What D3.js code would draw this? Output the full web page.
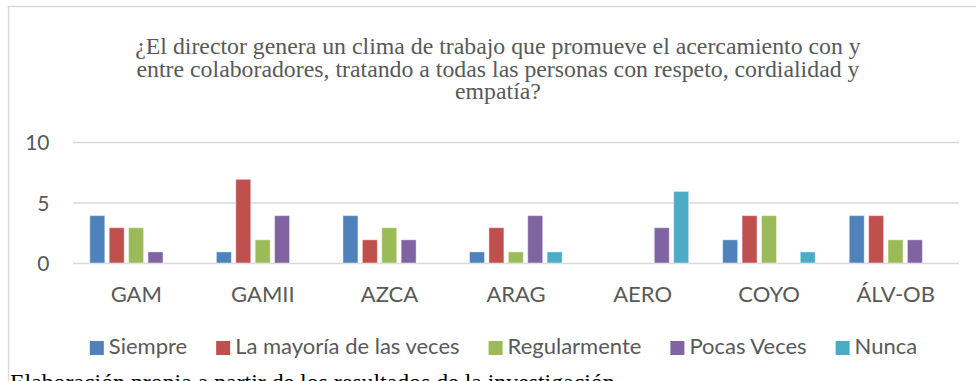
<!DOCTYPE html>
<html>
<head>
<meta charset="utf-8">
<script src="https://cdn.jsdelivr.net/npm/d3@7"></script>
<style>
  html, body { margin: 0; padding: 0; background: #fff; }
  svg { display: block; }
</style>
</head>
<body>
<svg id="chart" width="976" height="381"></svg>
<script>
// Survey answers per school (count of responses)
const categories = ["GAM", "GAMII", "AZCA", "ARAG", "AERO", "COYO", "ÁLV-OB"];
const series = ["Siempre", "La mayoría de las veces", "Regularmente", "Pocas Veces", "Nunca"];
const siempre      = [4, 1, 4, 1, 0, 2, 4];
const mayoria      = [3, 7, 2, 3, 0, 4, 4];
const regularmente = [3, 2, 3, 1, 0, 4, 2];
const pocasVeces   = [1, 4, 2, 4, 3, 0, 2];
const nunca        = [0, 0, 0, 1, 6, 1, 0];
const yTicks = [0, 5, 10];
const titleLines = [
  "¿El director genera un clima de trabajo que promueve el acercamiento con y",
  "entre colaboradores, tratando a todas las personas con respeto, cordialidad y",
  "empatía?"
];
const caption = "Elaboración propia a partir de los resultados de la investigación";

const seriesValues = [siempre, mayoria, regularmente, pocasVeces, nunca];
const colors = ["#4F81BD", "#C0504D", "#9BBB59", "#8064A2", "#4BACC6"];

const svg = d3.select("#chart");
const textGrey = "#595959";
const gridGrey = "#D9D9D9";
const sansFont = "Lato, 'Open Sans', sans-serif";
const serifFont = "'Liberation Serif', 'Times New Roman', serif";

// Outer chart frame
svg.append("rect")
  .attr("x", 8.5).attr("y", 6.5)
  .attr("width", 980).attr("height", 420)
  .attr("fill", "#fff")
  .attr("stroke", gridGrey).attr("stroke-width", 1.5);

// Title
const titleCx = 498;
svg.append("g").selectAll("text")
  .data(titleLines)
  .join("text")
  .attr("x", titleCx)
  .attr("y", (d, i) => 54 + i * 22.5)
  .attr("text-anchor", "middle")
  .attr("font-family", serifFont)
  .attr("font-size", 23.8)
  .attr("fill", textGrey)
  .text(d => d);

// Plot area
const plot = { left: 73, right: 959, top: 142.5, bottom: 263.5 };

const x0 = d3.scaleBand()
  .domain(categories)
  .range([plot.left, plot.right])
  .padding(0);

const x1 = d3.scaleBand()
  .domain(series)
  .range([16.3, 16.3 + 93.6])
  .paddingInner(0.175)
  .paddingOuter(0);

const y = d3.scaleLinear()
  .domain([0, 10])
  .range([plot.bottom, plot.top]);

// Gridlines
svg.append("g").selectAll("line")
  .data(yTicks)
  .join("line")
  .attr("x1", plot.left).attr("x2", plot.right)
  .attr("y1", d => y(d)).attr("y2", d => y(d))
  .attr("stroke", gridGrey).attr("stroke-width", 1.5);

// Y axis labels
const yAxis = d3.axisLeft(y).tickValues(yTicks).tickSize(0).tickPadding(0);
const yAxisG = svg.append("g")
  .attr("transform", `translate(49.5,0)`)
  .call(yAxis);
yAxisG.select(".domain").remove();
yAxisG.selectAll("text")
  .attr("font-family", sansFont)
  .attr("font-size", 21)
  .attr("fill", textGrey)
  .attr("dy", "0.35em");

// Bars
const rows = categories.map((c, i) => ({
  cat: c,
  vals: series.map((s, j) => ({ s, j, v: seriesValues[j][i] }))
}));

const groups = svg.append("g").selectAll("g")
  .data(rows)
  .join("g")
  .attr("transform", d => `translate(${x0(d.cat)},0)`);

groups.selectAll("rect")
  .data(d => d.vals.filter(e => e.v > 0))
  .join("rect")
  .attr("x", d => x1(d.s) + 0.5)
  .attr("y", d => y(d.v) + 0.5)
  .attr("width", x1.bandwidth() - 1)
  .attr("height", d => y(0) - y(d.v) - 1)
  .attr("fill", d => colors[d.j])
  .attr("stroke", "#fff")
  .attr("stroke-opacity", 0.45)
  .attr("stroke-width", 1);

// Category labels
const xAxis = d3.axisBottom(x0).tickSize(0).tickPadding(0);
const xAxisG = svg.append("g")
  .attr("transform", `translate(0,302)`)
  .call(xAxis);
xAxisG.select(".domain").remove();
xAxisG.selectAll("text")
  .attr("font-family", sansFont)
  .attr("font-size", 22)
  .attr("fill", textGrey)
  .attr("dy", 0)
  .attr("y", 0);

// Legend, laid out from measured label widths and centred
const legendY = 341;
const sw = 14, swGap = 5, itemGap = 29;
const legend = svg.append("g");
const items = legend.selectAll("g")
  .data(series)
  .join("g");
items.append("rect")
  .attr("width", sw).attr("height", sw)
  .attr("y", legendY)
  .attr("fill", (d, i) => colors[i]);
items.append("text")
  .attr("x", sw + swGap)
  .attr("y", legendY + 12.5)
  .attr("font-family", sansFont)
  .attr("font-size", 22)
  .attr("fill", textGrey)
  .text(d => d);
let cursor = 0;
const offsets = [];
items.each(function () {
  const w = d3.select(this).select("text").node().getComputedTextLength();
  offsets.push(cursor);
  cursor += sw + swGap + w + itemGap;
});
const legendWidth = cursor - itemGap;
const legendStart = 503.5 - legendWidth / 2;
items.attr("transform", (d, i) => `translate(${legendStart + offsets[i]},0)`);

// Source note under the chart
svg.append("text")
  .attr("x", 10)
  .attr("y", 389.5)
  .attr("font-family", serifFont)
  .attr("font-size", 23.8)
  .attr("fill", "#000")
  .text(caption);
</script>
</body>
</html>
